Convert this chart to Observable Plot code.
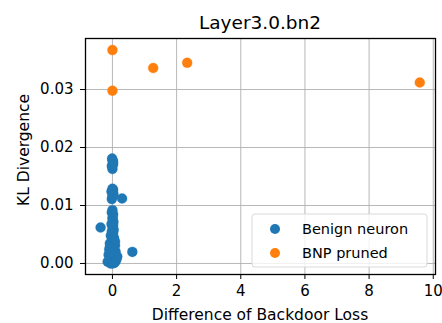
<!DOCTYPE html>
<html><head><meta charset="utf-8">
<script src="https://cdn.jsdelivr.net/npm/d3@7"></script>
<script src="https://cdn.jsdelivr.net/npm/@observablehq/plot@0.6"></script>
<style>body{margin:0;background:#fff;font-family:"DejaVu Sans",sans-serif}</style>
</head><body><div id="chart"></div>
<script>
const title = "Layer3.0.bn2";
const xLabel = "Difference of Backdoor Loss";
const yLabel = "KL Divergence";
const seriesNames = ["Benign neuron", "BNP pruned"];
const seriesColors = ["#1f77b4", "#ff7f0e"];
const xTicks = [0, 2, 4, 6, 8, 10];
const yTicks = [0, 0.01, 0.02, 0.03];

const benignX = [0,0.02,-0.02,0,0.02,-0.01,0.01, 0,-0.03,0.03,0,-0.02,0.02,0.01, 0,-0.02,0.02,0.01, 0,0.03,-0.03,0,0.04,-0.02,0.02, 0.3,-0.37,0.62,
  -0.05,0.05,0,-0.08,0.08,0,-0.1,0.1,0.04,-0.06,0.12,-0.1,0.1,0,0.06,-0.06,0.13,0.02,-0.02,-0.12,0.15,-0.15,0.0,0.08,-0.08,0.05,-0.04];
const benignY = [0.0178,0.0172,0.0168,0.0163,0.0176,0.0181,0.0170, 0.0129,0.0124,0.0120,0.0115,0.0111,0.0127,0.0118, 0.0092,0.0088,0.0085,0.0080, 0.0077,0.0072,0.0068,0.0063,0.0058,0.0055,0.0066, 0.0112,0.0062,0.0020,
  0.0048,0.0044,0.0040,0.0035,0.0031,0.0027,0.0024,0.0020,0.0016,0.0012,0.0010,0.0006,0.0004,0.0002,0.0001,0.0,0.0008,0.0052,0.0033,0.0015,0.0012,0.0003,0.0,0.0038,0.0029,0.0022,0.0018];
const prunedX = [0, 0, 1.27, 2.33, 9.58];
const prunedY = [0.0368, 0.0298, 0.0337, 0.0346, 0.0312];

const data = [
  ...benignX.map((x, i) => ({x, y: benignY[i], s: seriesNames[0]})),
  ...prunedX.map((x, i) => ({x, y: prunedY[i], s: seriesNames[1]}))
];

const plot = Plot.plot({
  width: 442, height: 323,
  marginLeft: 85, marginRight: 7, marginTop: 38, marginBottom: 49,
  style: {fontFamily: "DejaVu Sans", fontSize: "15px", color: "#000", background: "#fff"},
  x: {domain: [-0.84, 10.07], label: null},
  y: {domain: [-0.0019, 0.0388], label: null},
  color: {domain: seriesNames, range: seriesColors},
  marks: [
    Plot.gridX(xTicks, {stroke: "#b0b0b0", strokeOpacity: 1, strokeWidth: 0.9}),
    Plot.gridY(yTicks, {stroke: "#b0b0b0", strokeOpacity: 1, strokeWidth: 0.9}),
    Plot.dot(data, {x: "x", y: "y", fill: "s", r: 5, stroke: "s", strokeWidth: 0.3}),
    Plot.frame({stroke: "#000", strokeWidth: 1.3}),
    Plot.axisX({ticks: xTicks, tickFormat: d => String(d), label: null, tickSize: 5, tickPadding: 6, fontSize: 15}),
    Plot.axisY({ticks: yTicks, tickFormat: d3.format(".2f"), label: null, tickSize: 5, tickPadding: 7, fontSize: 15})
  ]
});

const svg = d3.select(plot);
svg.append("text").attr("x", 260).attr("y", 29).attr("text-anchor", "middle")
  .attr("font-size", 18.5).attr("fill", "#000").text(title);
svg.append("text").attr("x", 260).attr("y", 320).attr("text-anchor", "middle")
  .attr("font-size", 15.5).attr("fill", "#000").text(xLabel);
svg.append("text").attr("transform", "translate(29,150) rotate(-90)").attr("text-anchor", "middle")
  .attr("font-size", 15.5).attr("fill", "#000").text(yLabel);

const lg = svg.append("g");
lg.append("rect").attr("x", 252).attr("y", 214).attr("width", 175).attr("height", 53).attr("rx", 3)
  .attr("fill", "#fff").attr("fill-opacity", 0.8).attr("stroke", "#d9d9d9");
seriesNames.forEach((n, i) => {
  lg.append("circle").attr("cx", 275).attr("cy", 229 + i * 24).attr("r", 5).attr("fill", seriesColors[i]);
  lg.append("text").attr("x", 302).attr("y", 229 + i * 24).attr("dy", "0.35em").attr("text-anchor", "start")
    .attr("font-size", 14.5).attr("fill", "#000").text(n);
});

document.getElementById("chart").appendChild(plot);
</script></body></html>
